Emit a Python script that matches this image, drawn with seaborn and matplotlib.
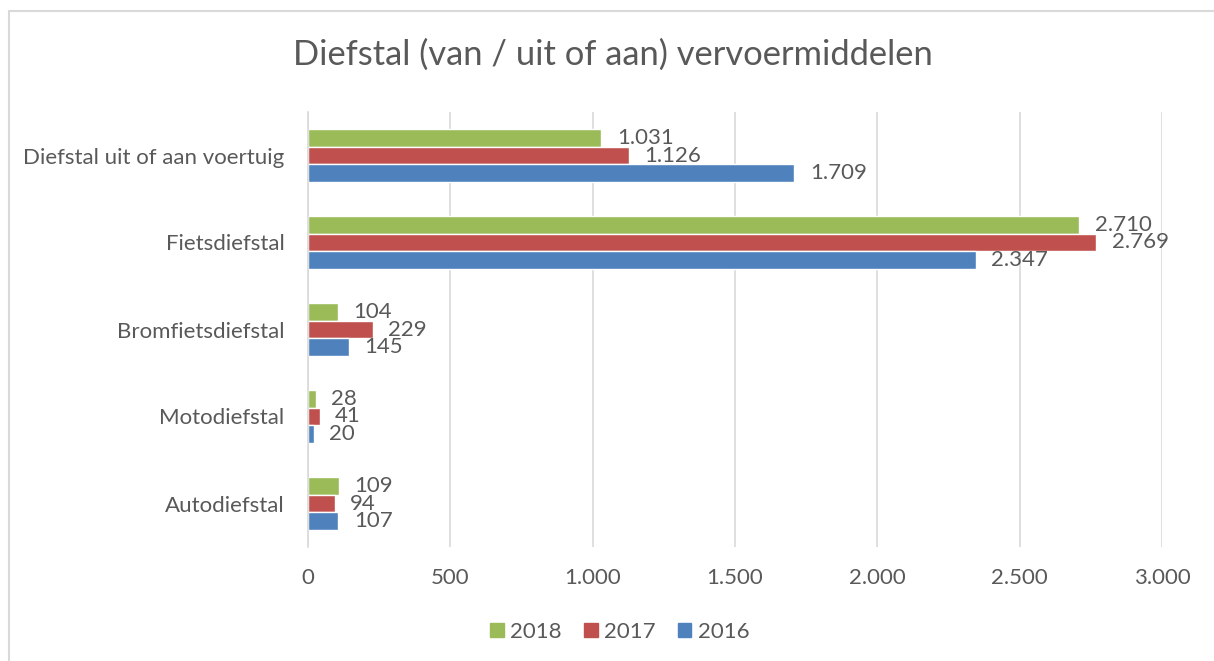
import pandas as pd
import matplotlib.pyplot as plt
import matplotlib.patches as mpatches
from matplotlib.ticker import FuncFormatter
import seaborn as sns

categories = ['Diefstal uit of aan voertuig', 'Fietsdiefstal', 'Bromfietsdiefstal',
              'Motodiefstal', 'Autodiefstal']
years = ['2018', '2017', '2016']
values_2018 = [1031, 2710, 104, 28, 109]
values_2017 = [1126, 2769, 229, 41, 94]
values_2016 = [1709, 2347, 145, 20, 107]
xticks = [0, 500, 1000, 1500, 2000, 2500, 3000]

colors = {'2018': '#9BBB59', '2017': '#C0504D', '2016': '#4F81BD'}
TEXT = '#595959'
GRID = '#D9D9D9'

rows = []
for year, vals in zip(years, [values_2018, values_2017, values_2016]):
    for cat, v in zip(categories, vals):
        rows.append({'categorie': cat, 'jaar': year, 'aantal': v})
df = pd.DataFrame(rows)

sns.set_style('white')
plt.rcParams['font.family'] = ['Lato', 'DejaVu Sans']

W, H = 1214, 661
fig = plt.figure(figsize=(W / 100, H / 100), dpi=100)
ax = fig.add_axes([308 / W, 1 - 547 / H, 854 / W, 435 / H])

sns.barplot(data=df, y='categorie', x='aantal', hue='jaar', hue_order=years,
            order=categories, palette=colors, orient='h', width=0.61,
            saturation=1, ax=ax, legend=False)

for cont in ax.containers:
    ax.bar_label(cont, labels=[f'{int(v):,}'.replace(',', '.') for v in cont.datavalues],
                 padding=11, fontsize=16, color=TEXT)

ax.set_xlim(0, 3000)
ax.set_ylim(4.5, -0.5)
ax.set_xticks(xticks)
ax.xaxis.set_major_formatter(FuncFormatter(lambda v, p: f'{int(v):,}'.replace(',', '.')))
ax.grid(axis='x', color=GRID, linewidth=1.2)
ax.set_axisbelow(True)
for s in ['top', 'right', 'bottom']:
    ax.spines[s].set_visible(False)
ax.spines['left'].set_color(GRID)
ax.spines['left'].set_linewidth(1.2)
ax.tick_params(axis='both', length=0, labelsize=16, labelcolor=TEXT)
ax.tick_params(axis='x', pad=15)
ax.tick_params(axis='y', pad=17)
ax.set_xlabel('')
ax.set_ylabel('')

fig.text(613 / W, 1 - 55 / H, 'Diefstal (van / uit of aan) vervoermiddelen',
         ha='center', va='center', fontsize=24.8, color=TEXT)

handles = [mpatches.Patch(color=colors[y], label=y) for y in years]
fig.legend(handles=handles, loc='center', bbox_to_anchor=(620 / W, 1 - 632 / H),
           ncol=3, frameon=False, fontsize=16, labelcolor=TEXT,
           handlelength=0.6, handleheight=0.6, handletextpad=0.3, columnspacing=1.0)

# chart area border (only top and left edges visible in the crop)
fig.patches.append(mpatches.Rectangle((8.5 / W, -0.1), 1.2, 1 - 11.5 / H + 0.1,
                                      transform=fig.transFigure, fill=False,
                                      edgecolor=GRID, linewidth=1.5))

plt.savefig('out.png', dpi=100)
plt.close(fig)
